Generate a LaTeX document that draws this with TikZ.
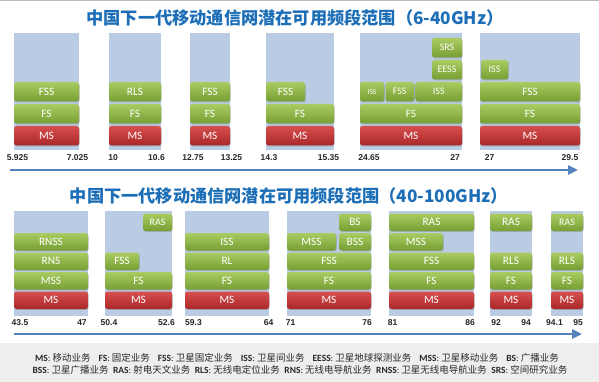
\documentclass[tikz,border=0pt]{standalone}
\usepackage{fontspec}
\setmainfont{Carlito}
\newfontfamily\cjk{Noto Sans CJK SC}
\newfontfamily\numf{Liberation Sans}
\usetikzlibrary{shadows,arrows.meta}
\definecolor{panelbg}{RGB}{185,204,228}
\definecolor{gtop}{RGB}{170,204,98}
\definecolor{gbot}{RGB}{118,158,50}
\definecolor{rtop}{RGB}{214,80,78}
\definecolor{rbot}{RGB}{170,38,40}
\definecolor{titleblue}{RGB}{28,110,182}
\definecolor{axisblue}{RGB}{84,130,190}
\definecolor{legendbg}{RGB}{238,238,238}
\definecolor{legtext}{RGB}{40,40,40}
\newcommand\bk[7]{\node[#1,minimum width=#5pt-#3pt,minimum height=#6pt-#4pt] (#2) at (#3,#4) {#7};}
\tikzset{
  x=1pt, y=-1pt,
  blk/.style={draw=none, rounded corners=2.5pt, inner sep=0pt, outer sep=0pt,
    text=white, anchor=north west, font=\fontsize{11.3}{11.3}\selectfont,
    drop shadow={shadow xshift=0.8pt, shadow yshift=-0.9pt, opacity=0.3, fill=black!60}},
  gblk/.style={blk, top color=gtop, bottom color=gbot},
  rblk/.style={blk, top color=rtop, bottom color=rbot},
  sm/.style={font=\fontsize{10}{10}\selectfont},
  xs/.style={font=\fontsize{7.5}{7.5}\selectfont},
  panel/.style={fill=panelbg, draw=none, inner sep=0pt, outer sep=0pt, anchor=north west},
  axlab/.style={font=\numf\bfseries\fontsize{8.5}{8.5}\selectfont, inner sep=0pt, text=black!85},
  title/.style={font=\cjk\bfseries\fontsize{17.2}{17.2}\selectfont, text=titleblue, inner sep=0pt},
  axis/.style={draw=axisblue, line width=2.6pt, -{Triangle[length=10pt,width=9pt]}},
  leg/.style={font=\fontsize{9.5}{9.5}\selectfont, text=legtext, inner sep=0pt},
}
\newcommand\ab[1]{\textbf{#1}}
\newcommand\zh[1]{{\cjk #1}}
\newcommand\gp{\hspace{8pt}}
\newcommand\gq{\hspace{4.5pt}}
\begin{document}
\begin{tikzpicture}
\useasboundingbox (0,0) rectangle (599,382);
\fill[white] (0,0) rectangle (599,382);
\draw[gray!55, line width=1.5pt] (0,0.75) -- (599,0.75);

% ---------- titles ----------
\node[title] (t1) at (295,17.5) {中国下一代移动通信网潜在可用频段范围（6-40GHz）};
\node[title] (t2) at (289,195.5) {中国下一代移动通信网潜在可用频段范围（40-100GHz）};

% ---------- top row panels ----------
\bk{panel}{p1}{14}{33}{79}{150}{}
\bk{panel}{p2}{109}{33}{161}{150}{}
\bk{panel}{p3}{190}{33}{230}{150}{}
\bk{panel}{p4}{266}{33}{334}{150}{}
\bk{panel}{p5}{360}{33}{462}{150}{}
\bk{panel}{p6}{480}{33}{580}{150}{}

% panel 1
\bk{rblk}{p1ms}{14}{126}{79}{145.5}{MS}
\bk{gblk}{p1fs}{14}{104}{79}{123.5}{FS}
\bk{gblk}{p1fss}{14}{82}{79}{101.5}{FSS}
% panel 2
\bk{rblk}{p2ms}{109}{126}{161}{145.5}{MS}
\bk{gblk}{p2fs}{109}{104}{161}{123.5}{FS}
\bk{gblk}{p2rls}{109}{82}{161}{101.5}{RLS}
% panel 3
\bk{rblk}{p3ms}{190}{126}{230}{145.5}{MS}
\bk{gblk}{p3fs}{190}{104}{230}{123.5}{FS}
\bk{gblk}{p3fss}{190}{82}{230}{101.5}{FSS}
% panel 4
\bk{rblk}{p4ms}{266}{126}{334}{145.5}{MS}
\bk{gblk}{p4fs}{266}{104}{334}{123.5}{FS}
\bk{gblk}{p4fss}{266}{82}{305}{101.5}{FSS}
% panel 5
\bk{rblk}{p5ms}{360}{126}{462}{145.5}{MS}
\bk{gblk}{p5fs}{360}{104}{462}{123.5}{FS}
\bk{gblk,xs}{p5iss}{360}{82}{384}{101.5}{ISS}
\bk{gblk,sm}{p5fss}{385.5}{82}{414}{101.5}{FSS}
\bk{gblk,sm}{p5isb}{415.5}{82}{462}{101.5}{ISS}
\bk{gblk,sm}{p5eess}{432}{60}{462}{79.5}{EESS}
\bk{gblk,sm}{p5srs}{432}{38}{462}{57.5}{SRS}
% panel 6
\bk{rblk}{p6ms}{480}{126}{580}{145.5}{MS}
\bk{gblk}{p6fs}{480}{104}{580}{123.5}{FS}
\bk{gblk}{p6fss}{480}{82}{580}{101.5}{FSS}
\bk{gblk,sm}{p6iss}{481}{60}{508}{79.5}{ISS}

% top labels
\node[axlab] (l1a) at (17.5,158) {5.925};
\node[axlab] (l1b) at (77.5,158) {7.025};
\node[axlab] (l2a) at (113,158) {10};
\node[axlab] (l2b) at (156.5,158) {10.6};
\node[axlab] (l3a) at (193,158) {12.75};
\node[axlab] (l3b) at (231.5,158) {13.25};
\node[axlab] (l4a) at (269,158) {14.3};
\node[axlab] (l4b) at (328.5,158) {15.35};
\node[axlab] (l5a) at (369,158) {24.65};
\node[axlab] (l5b) at (455,158) {27};
\node[axlab] (l6a) at (489.5,158) {27};
\node[axlab] (l6b) at (570,158) {29.5};

\coordinate (ax1s) at (10,170);
\coordinate (ax1e) at (578,170);
\draw[axis] (ax1s) -- (ax1e);

% ---------- bottom row panels ----------
\bk{panel}{q1}{14}{211}{88}{316}{}
\bk{panel}{q2}{105}{211}{172}{316}{}
\bk{panel}{q3}{185}{211}{269}{316}{}
\bk{panel}{q4}{287}{211}{371}{316}{}
\bk{panel}{q5}{389}{211}{474}{316}{}
\bk{panel}{q6}{490}{211}{532}{316}{}
\bk{panel}{q7}{551}{211}{583}{316}{}

% q1
\bk{rblk}{q1ms}{14}{291.5}{88}{309}{MS}
\bk{gblk}{q1mss}{14}{272}{88}{289.5}{MSS}
\bk{gblk}{q1rns}{14}{252.5}{88}{270}{RNS}
\bk{gblk}{q1rnss}{14}{233}{88}{250.5}{RNSS}
% q2
\bk{rblk}{q2ms}{105}{291.5}{172}{309}{MS}
\bk{gblk}{q2fs}{105}{272}{172}{289.5}{FS}
\bk{gblk}{q2fss}{105}{252.5}{139}{270}{FSS}
\bk{gblk,sm}{q2ras}{143}{213.5}{172}{231}{RAS}
% q3
\bk{rblk}{q3ms}{185}{291.5}{269}{309}{MS}
\bk{gblk}{q3fs}{185}{272}{269}{289.5}{FS}
\bk{gblk}{q3rl}{185}{252.5}{269}{270}{RL}
\bk{gblk}{q3iss}{185}{233}{269}{250.5}{ISS}
% q4
\bk{rblk}{q4ms}{287}{291.5}{371}{309}{MS}
\bk{gblk}{q4fs}{287}{272}{371}{289.5}{FS}
\bk{gblk}{q4fss}{287}{252.5}{371}{270}{FSS}
\bk{gblk}{q4mss}{287}{233}{336}{250.5}{MSS}
\bk{gblk}{q4bss}{339}{233}{371}{250.5}{BSS}
\bk{gblk}{q4bs}{339}{213.5}{371}{231}{BS}
% q5
\bk{rblk}{q5ms}{389}{291.5}{474}{309}{MS}
\bk{gblk}{q5fs}{389}{272}{474}{289.5}{FS}
\bk{gblk}{q5fss}{389}{252.5}{474}{270}{FSS}
\bk{gblk}{q5mss}{389}{233}{443}{250.5}{MSS}
\bk{gblk}{q5ras}{389}{213.5}{474}{231}{RAS}
% q6
\bk{rblk}{q6ms}{490}{291.5}{532}{309}{MS}
\bk{gblk}{q6fs}{490}{272}{532}{289.5}{FS}
\bk{gblk}{q6rls}{490}{252.5}{532}{270}{RLS}
\bk{gblk}{q6ras}{490}{213.5}{532}{231}{RAS}
% q7
\bk{rblk}{q7ms}{551}{291.5}{583}{309}{MS}
\bk{gblk}{q7fs}{551}{272}{583}{289.5}{FS}
\bk{gblk}{q7rls}{551}{252.5}{583}{270}{RLS}
\bk{gblk,sm}{q7ras}{551}{213.5}{583}{231}{RAS}

% bottom labels
\node[axlab] (m1a) at (20,323) {43.5};
\node[axlab] (m1b) at (82,323) {47};
\node[axlab] (m2a) at (109,323) {50.4};
\node[axlab] (m2b) at (166.5,323) {52.6};
\node[axlab] (m3a) at (193.5,323) {59.3};
\node[axlab] (m3b) at (268.5,323) {64};
\node[axlab] (m4a) at (290.5,323) {71};
\node[axlab] (m4b) at (367,323) {76};
\node[axlab] (m5a) at (392.5,323) {81};
\node[axlab] (m5b) at (470,323) {86};
\node[axlab] (m6a) at (496,323) {92};
\node[axlab] (m6b) at (526,323) {94};
\node[axlab] (m7a) at (554.5,323) {94.1};
\node[axlab] (m7b) at (578,323) {95};

\coordinate (ax2s) at (14,334);
\coordinate (ax2e) at (582,334);
\draw[axis] (ax2s) -- (ax2e);

% ---------- legend ----------
\fill[legendbg] (0,343) rectangle (599,382);
\node[leg] (leg1) at (297,358) {\ab{MS}: \zh{移动业务}\gp\ab{FS}: \zh{固定业务}\gp\ab{FSS}: \zh{卫星固定业务}\gp\ab{ISS}: \zh{卫星间业务}\gp\ab{EESS}: \zh{卫星地球探测业务}\gp\ab{MSS}: \zh{卫星移动业务}\gp\ab{BS}: \zh{广播业务}};
\node[leg] (leg2) at (300,369.5) {\ab{BSS}: \zh{卫星广播业务}\gq\ab{RAS}: \zh{射电天文业务}\gq\ab{RLS}: \zh{无线电定位业务}\gq\ab{RNS}: \zh{无线电导航业务}\gq\ab{RNSS}: \zh{卫星无线电导航业务}\gq\ab{SRS}: \zh{空间研究业务}};
\end{tikzpicture}
\end{document}
